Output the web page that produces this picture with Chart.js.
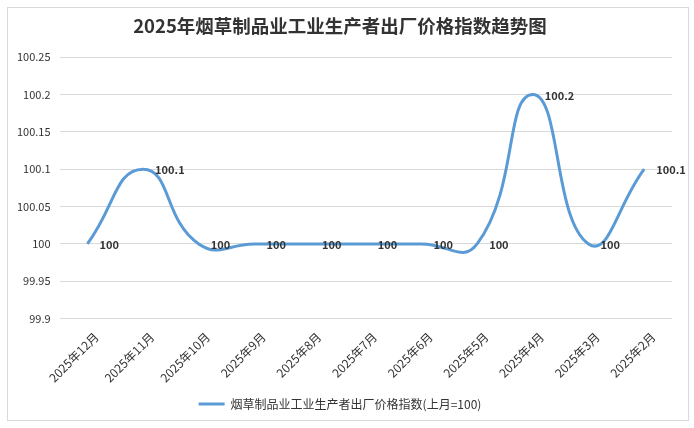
<!DOCTYPE html>
<html>
<head>
<meta charset="utf-8">
<script src="https://cdn.jsdelivr.net/npm/chart.js@4"></script>
<style>
  body { margin: 0; background: #fff; }
  .box {
    position: absolute;
    left: 7px; top: 7px;
    width: 682px; height: 414px;
    border: 1px solid #d9d9d9;
    box-sizing: border-box;
  }
  canvas { display: block; }
</style>
</head>
<body>
<div class="box"><canvas id="chart" width="680" height="412"></canvas></div>
<script>
const months = [
  "2025年12月", "2025年11月", "2025年10月", "2025年9月", "2025年8月", "2025年7月",
  "2025年6月", "2025年5月", "2025年4月", "2025年3月", "2025年2月",
];
const values = [100, 100.1, 100, 100, 100, 100, 100, 100, 100.2, 100, 100.1];
const seriesName = "烟草制品业工业生产者出厂价格指数(上月=100)";

const FONT = "'Noto Sans CJK SC', 'Noto Sans', sans-serif";

// labels to the right of each point
const pointLabels = {
  id: "pointLabels",
  afterDatasetsDraw(chart) {
    const { ctx } = chart;
    const meta = chart.getDatasetMeta(0);
    ctx.save();
    ctx.font = "bold 11px " + FONT;
    ctx.fillStyle = "#333";
    ctx.textAlign = "left";
    ctx.textBaseline = "middle";
    meta.data.forEach((pt, i) => {
      ctx.fillText(String(values[i]), pt.x + 12, pt.y + 1);
    });
    ctx.restore();
  },
};

new Chart(document.getElementById("chart"), {
  type: "line",
  data: {
    labels: months,
    datasets: [
      {
        label: seriesName,
        data: values,
        borderColor: "#5B9BD5",
        backgroundColor: "#5B9BD5",
        borderWidth: 3,
        pointRadius: 0,
        tension: 0.5,
      },
    ],
  },
  options: {
    responsive: false,
    animation: false,
    layout: { padding: { left: 0, right: 16, top: 0, bottom: 0 } },
    plugins: {
      title: {
        display: true,
        text: "2025年烟草制品业工业生产者出厂价格指数趋势图",
        color: "#333",
        font: { family: FONT, size: 18.5, weight: "bold" },
        padding: { top: 7, bottom: 20 },
      },
      legend: {
        position: "bottom",
        labels: {
          color: "#333",
          font: { family: FONT, size: 12 },
          boxWidth: 26,
          boxHeight: 3,
          padding: 10,
          generateLabels: (chart) =>
            Chart.defaults.plugins.legend.labels
              .generateLabels(chart)
              .map((l) => ({ ...l, lineWidth: 0, fillStyle: "#5B9BD5" })),
        },
      },
      tooltip: { enabled: false },
    },
    scales: {
      x: {
        offset: true,
        grid: { display: false },
        border: { display: false },
        // rotated labels should not push the plot area in
        afterFit: (scale) => {
          scale.paddingLeft = 0;
          scale.paddingRight = 0;
        },
        ticks: {
          color: "#333",
          font: { family: FONT, size: 12 },
          maxRotation: 45,
          minRotation: 45,
          autoSkip: false,
          labelOffset: 9,
          padding: 3,
        },
      },
      y: {
        min: 99.9,
        max: 100.25,
        grid: { color: "#d9d9d9", drawTicks: false },
        border: { display: false },
        ticks: {
          stepSize: 0.05,
          color: "#333",
          font: { family: FONT, size: 11 },
          padding: 9,
          callback: (v) => String(Number(v.toFixed(2))),
        },
      },
    },
  },
  plugins: [pointLabels],
});
</script>
</body>
</html>
